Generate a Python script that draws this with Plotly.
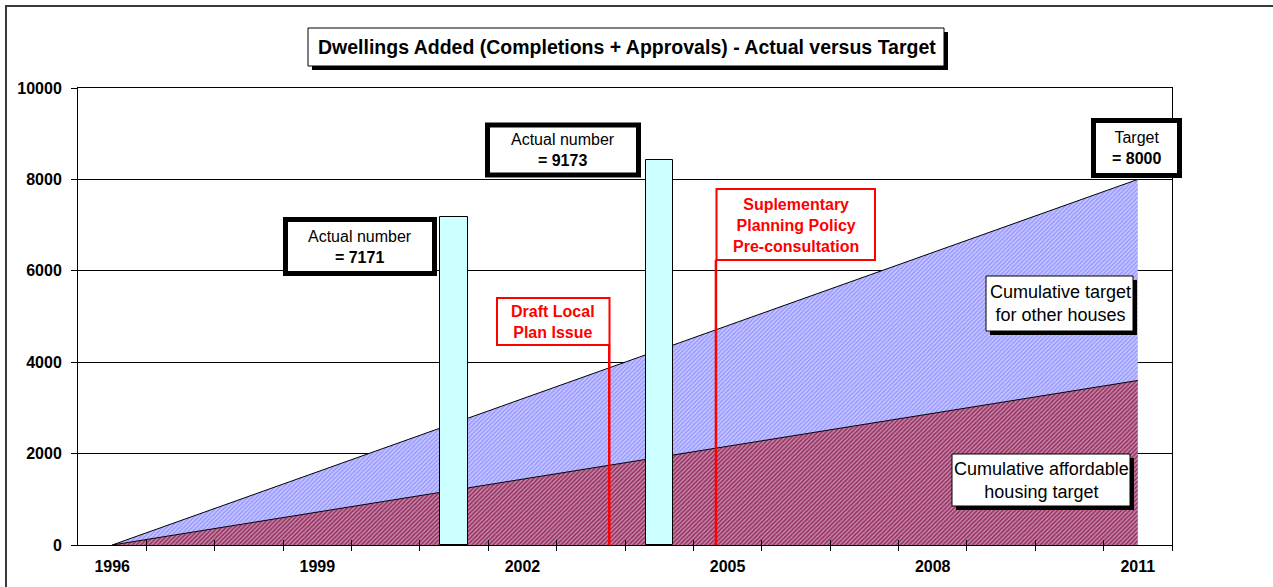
import plotly.graph_objects as go

# ---------------- data ----------------
years = [1996, 1997, 1998, 1999, 2000, 2001, 2002, 2003, 2004, 2005,
         2006, 2007, 2008, 2009, 2010, 2011]
affordable_cum = [0, 240, 480, 720, 960, 1200, 1440, 1680, 1920, 2160,
                  2400, 2640, 2880, 3120, 3360, 3600]
other_cum = [0, 293, 587, 880, 1173, 1467, 1760, 2053, 2347, 2640,
             2933, 3227, 3520, 3813, 4107, 4400]
actual_years = [2001, 2004]
actual_values = [7171, 8420]
actual_labels = ["7171", "9173"]
target_total = 8000
event_labels = ["Draft Local<br>Plan Issue",
                "Suplementary<br>Planning Policy<br>Pre-consultation"]
event_years = [2003.27, 2004.83]
event_tops = [4376, 6240]
x_tick_years = [1996, 1999, 2002, 2005, 2008, 2011]
y_ticks = [0, 2000, 4000, 6000, 8000, 10000]
title_text = "Dwellings Added (Completions + Approvals) - Actual versus Target"

# ---------------- layout helpers ----------------
W, H = 1273, 587
ML, MR, MT, MB = 78, 101, 88, 42
PW, PH = W - ML - MR, H - MT - MB
FONT = "Arial, Liberation Sans, sans-serif"


def px(x):
    return (x - ML) / PW


def py(y):
    return (H - MB - y) / PH


fig = go.Figure()

# cumulative target areas
fig.add_trace(go.Scatter(
    x=years, y=affordable_cum, mode="lines", stackgroup="cum",
    name="Cumulative affordable housing target",
    line=dict(color="black", width=1),
    fillcolor="#993366",
    fillpattern=dict(shape="/", bgcolor="#993366", fgcolor="#FFFFFF",
                     size=3, solidity=0.4),
    hoverinfo="skip"))
fig.add_trace(go.Scatter(
    x=years, y=other_cum, mode="lines", stackgroup="cum",
    name="Cumulative target for other houses",
    line=dict(color="black", width=1),
    fillcolor="#9999FF",
    fillpattern=dict(shape="/", bgcolor="#9999FF", fgcolor="#FFFFFF",
                     size=3, solidity=0.45),
    hoverinfo="skip"))

# actual bars on overlay axes (so they sit above the areas)
fig.add_trace(go.Bar(
    x=actual_years, y=actual_values, width=0.4,
    marker=dict(color="#CCFFFF", line=dict(color="black", width=1)),
    xaxis="x2", yaxis="y2", hoverinfo="skip"))

minor_vals = [y + 0.5 for y in years]

fig.update_layout(
    width=W, height=H,
    margin=dict(l=ML, r=MR, t=MT, b=MB, pad=0),
    paper_bgcolor="white", plot_bgcolor="white",
    showlegend=False,
    font=dict(family=FONT, color="black"),
    xaxis=dict(range=[1995.5, 2011.5], tickmode="array",
               tickvals=x_tick_years, ticktext=[str(v) for v in x_tick_years],
               ticks="", showgrid=False, zeroline=False,
               showline=True, linecolor="black", linewidth=1, mirror=True,
               tickfont=dict(family=FONT, size=16, color="black", weight="bold"),
               ticklabelstandoff=7,
               minor=dict(tickmode="array", tickvals=minor_vals,
                          ticks="outside", ticklen=5, tickcolor="black",
                          tickwidth=1, showgrid=False)),
    yaxis=dict(range=[0, 10000], tickmode="array", tickvals=y_ticks,
               ticktext=[str(v) for v in y_ticks],
               ticks="outside", ticklen=6, tickcolor="black",
               showgrid=True, gridcolor="black", gridwidth=1,
               zeroline=False, showline=True, linecolor="black",
               linewidth=1, mirror=True,
               tickfont=dict(family=FONT, size=16, color="black", weight="bold"),
               ticklabelstandoff=6),
    xaxis2=dict(range=[1995.5, 2011.5], overlaying="x", anchor="y2",
                side="bottom", showticklabels=False, showgrid=False,
                zeroline=False, showline=False, ticks="",
                minor=dict(tickmode="array", tickvals=minor_vals,
                           ticks="inside", ticklen=5, tickcolor="black",
                           tickwidth=1, showgrid=False)),
    yaxis2=dict(range=[0, 10000], overlaying="y", anchor="x2",
                visible=False),
    bargap=0,
)

shapes = []
annotations = []

# outer chart frame
shapes.append(dict(type="line", xref="paper", yref="paper",
                   x0=px(5), x1=px(1273), y0=py(6), y1=py(6),
                   line=dict(color="#3a3a3a", width=2), layer="above"))
shapes.append(dict(type="line", xref="paper", yref="paper",
                   x0=px(6), x1=px(6), y0=py(6), y1=py(587),
                   line=dict(color="#3a3a3a", width=2), layer="above"))


def box(x0, y0, x1, y1, color="black", width=1, shadow=0):
    if shadow:
        shapes.append(dict(type="rect", xref="paper", yref="paper",
                           x0=px(x0 + shadow), x1=px(x1 + shadow),
                           y0=py(y0 + shadow), y1=py(y1 + shadow),
                           fillcolor="black", line=dict(width=0),
                           layer="above"))
    shapes.append(dict(type="rect", xref="paper", yref="paper",
                       x0=px(x0), x1=px(x1), y0=py(y0), y1=py(y1),
                       fillcolor="white", line=dict(color=color, width=width),
                       layer="above"))


def label(x, y, text, size=16, color="black"):
    annotations.append(dict(xref="paper", yref="paper", x=px(x), y=py(y),
                            text=text, showarrow=False, xanchor="center",
                            yanchor="middle", align="center",
                            font=dict(family=FONT, size=size, color=color)))


# title box
box(308, 28, 944, 66, width=1, shadow=4)
label(627, 47, "<b>" + title_text + "</b>", size=19.5)

# red event lines (data coordinates)
for ex, top in zip(event_years, event_tops):
    shapes.append(dict(type="line", xref="x", yref="y", x0=ex, x1=ex,
                       y0=0, y1=top, line=dict(color="#FF0000", width=2.5),
                       layer="above"))

# actual-number boxes
box(285.5, 219.5, 434.5, 273.5, width=5)
label(360, 247, "Actual number<br><b>= " + actual_labels[0] + "</b>")
box(487.5, 125, 638.5, 175, width=5)
label(563, 150, "Actual number<br><b>= " + actual_labels[1] + "</b>")

# target box
box(1093.5, 120.5, 1179.5, 175.5, width=5)
label(1136, 148, "Target<br><b>= " + str(target_total) + "</b>")

# event boxes
box(497, 298, 609.5, 345, color="#FF0000", width=2)
label(553, 321.5, "<b>" + event_labels[0] + "</b>", size=16, color="#FF0000")
box(716.5, 189, 875, 260, color="#FF0000", width=2)
label(796, 225, "<b>" + event_labels[1] + "</b>", size=16, color="#FF0000")

# area labels
box(986, 276, 1133, 331, width=1, shadow=4)
label(1060, 303.5, "Cumulative target<br>for other houses", size=18)
box(952, 454, 1130, 506, width=1, shadow=4)
label(1041, 480, "Cumulative affordable<br>housing target", size=18)

fig.update_layout(shapes=shapes, annotations=annotations)

fig.write_html("out.html", config={"displayModeBar": False},
               post_script="document.body.style.margin='0px';")
